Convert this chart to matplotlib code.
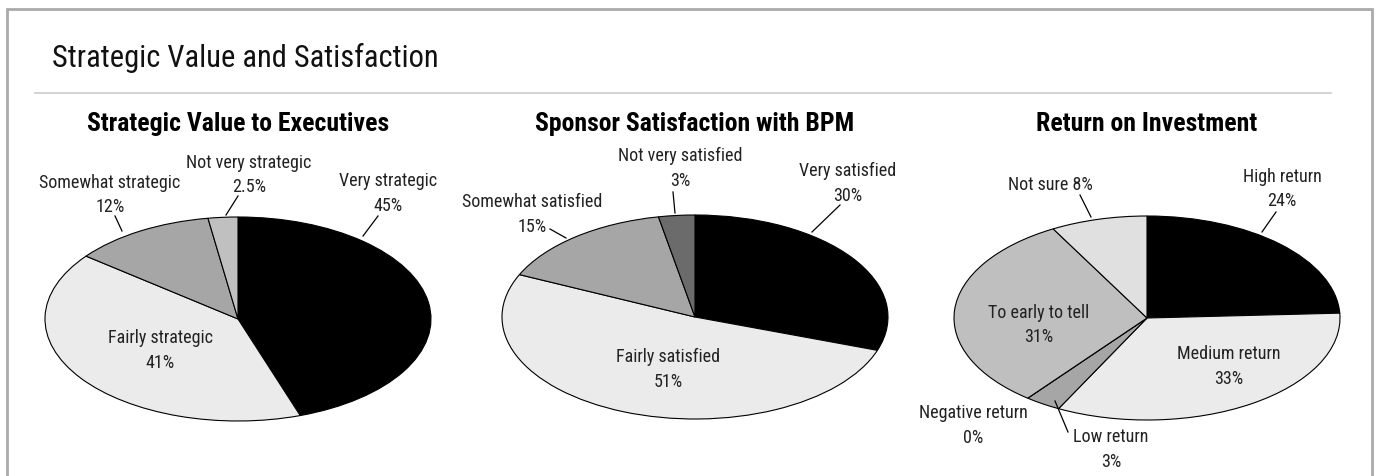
import matplotlib.pyplot as plt
from matplotlib.lines import Line2D
from matplotlib.patches import Rectangle

W, H = 1377, 477

# data
titles = ['Strategic Value to Executives', 'Sponsor Satisfaction with BPM', 'Return on Investment']

exec_labels = ['Very strategic', 'Fairly strategic', 'Somewhat strategic', 'Not very strategic']
exec_values = [45, 41, 12, 2.5]
exec_text = ['45%', '41%', '12%', '2.5%']

spons_labels = ['Very satisfied', 'Fairly satisfied', 'Somewhat satisfied', 'Not very satisfied']
spons_values = [30, 51, 15, 3]
spons_text = ['30%', '51%', '15%', '3%']

roi_labels = ['High return', 'Medium return', 'Low return', 'Negative return', 'To early to tell', 'Not sure']
roi_values = [24, 33, 3, 0, 31, 8]
roi_text = ['24%', '33%', '3%', '0%', '31%', '8%']

exec_colors = ['#000000', '#ebebeb', '#a6a6a6', '#c0c0c0']
spons_colors = ['#000000', '#ebebeb', '#a6a6a6', '#6b6b6b']
roi_colors = ['#000000', '#ebebeb', '#a6a6a6', '#a6a6a6', '#bfbfbf', '#e0e0e0']

# layout (pixels): pie centre and radii
centres = [(238, 320), (695, 318), (1147, 319)]
rx, ry = 193, 102

# label centre (px), leader line (x0, y0, x1, y1) or None
exec_pos = [((388, 194), (378, 217, 363, 237)),
            ((160, 351), None),
            ((110, 195), (115, 217, 122, 232)),
            ((249, 175), (238, 197, 226, 216))]
spons_pos = [((848, 183), (840, 206, 812, 233)),
             ((668, 369), None),
             ((532, 215), (550, 230, 566, 239)),
             ((680, 168), (673, 193, 675, 214))]
roi_pos = [((1282, 189), (1276, 213, 1262, 233)),
           ((1229, 367), None),
           ((1111, 450), (1055, 402, 1068, 433)),
           ((973, 426), None),
           ((1039, 325), None),
           ((1050, 185), (1080, 196, 1091, 218))]

FONT = ['Roboto Condensed', 'Archivo Narrow', 'Liberation Sans', 'DejaVu Sans']
plt.rcParams['font.family'] = FONT


def fx(x):
    return x / W


def fy(y):
    return 1 - y / H


fig = plt.figure(figsize=(W / 100, H / 100), dpi=100)

# frame and title
fig.add_artist(Rectangle((fx(7), fy(H + 20)), fx(1372 - 7), (H + 10) / H, transform=fig.transFigure,
                         fill=False, edgecolor='#aaaaaa', linewidth=2))
fig.add_artist(Line2D([fx(35), fx(1331)], [fy(94), fy(94)], transform=fig.transFigure,
                      color='#cccccc', linewidth=1.2))
fig.text(fx(52), fy(58), 'Strategic Value and Satisfaction', fontsize=22, va='center', ha='left',
         color='#111111')

sets = [(exec_labels, exec_values, exec_text, exec_colors, exec_pos),
        (spons_labels, spons_values, spons_text, spons_colors, spons_pos),
        (roi_labels, roi_values, roi_text, roi_colors, roi_pos)]

for i, (labels, values, pct, colors, pos) in enumerate(sets):
    cx, cy = centres[i]
    ax = fig.add_axes([fx(cx - rx), fy(cy + ry), 2 * rx / W, 2 * ry / H])
    wedges, _ = ax.pie(values, colors=colors, startangle=90, counterclock=False,
                       wedgeprops=dict(edgecolor='black', linewidth=0.8))
    for w in wedges:
        w.set_clip_on(False)
    ax.set_aspect('auto')
    ax.set_xlim(-1, 1)
    ax.set_ylim(-1, 1)
    ax.axis('off')

    fig.text(fx(cx), fy(124), titles[i], fontsize=18.5, fontweight='bold', ha='center', va='center')

    for lab, p, (xy, line) in zip(labels, pct, pos):
        if lab == 'Not sure':
            s = lab + ' ' + p
        else:
            s = lab + '\n' + p
        fig.text(fx(xy[0]), fy(xy[1]), s, fontsize=13, ha='center', va='center',
                 color='#222222', linespacing=1.5)
        if line is not None:
            fig.add_artist(Line2D([fx(line[0]), fx(line[2])], [fy(line[1]), fy(line[3])],
                                  transform=fig.transFigure, color='black', linewidth=0.9))

fig.savefig('out.png', dpi=100)
